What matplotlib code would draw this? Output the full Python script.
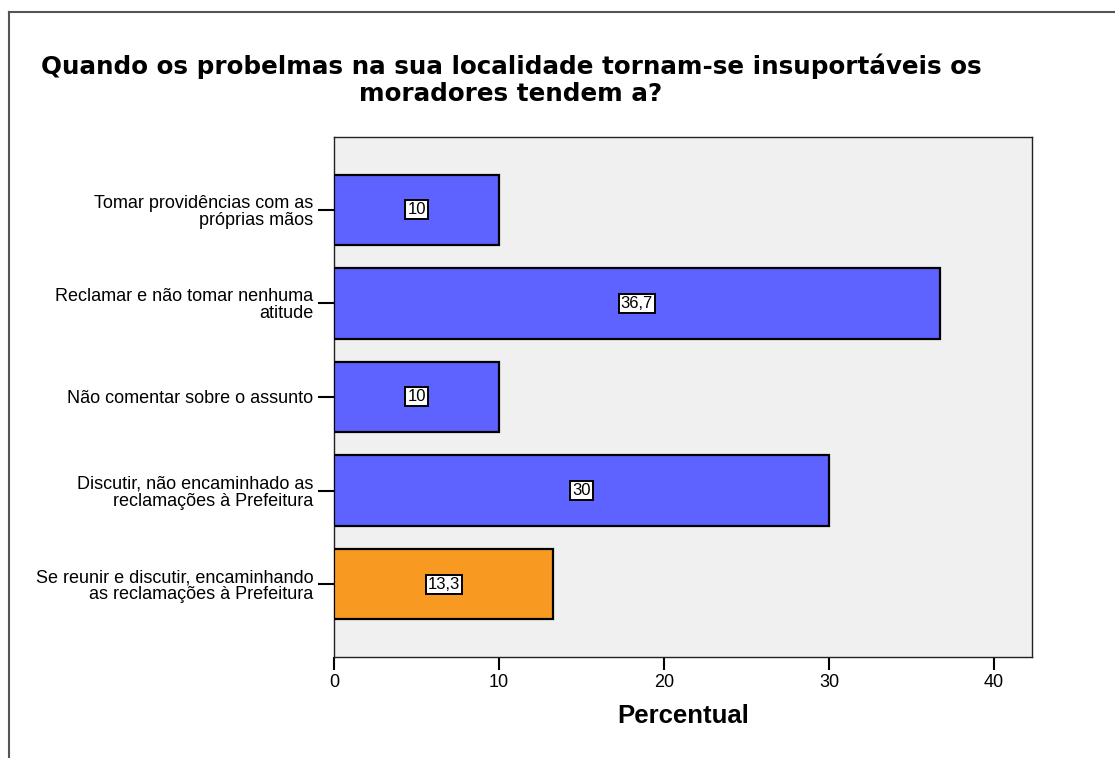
import matplotlib
matplotlib.use("Agg")
import matplotlib.pyplot as plt

categories = [
    "Tomar providências com as\npróprias mãos",
    "Reclamar e não tomar nenhuma\natitude",
    "Não comentar sobre o assunto",
    "Discutir, não encaminhado as\nreclamações à Prefeitura",
    "Se reunir e discutir, encaminhando\nas reclamações à Prefeitura",
]
values = [10, 36.7, 10, 30, 13.3]
value_labels = ["10", "36,7", "10", "30", "13,3"]
bar_colors = ["#5E62FF", "#5E62FF", "#5E62FF", "#5E62FF", "#F89A22"]
xticks = [0, 10, 20, 30, 40]

plt.rcParams['font.family'] = ['Liberation Sans', 'DejaVu Sans']

fig = plt.figure(figsize=(11.15, 7.58), dpi=100)
ax = fig.add_axes([334/1115, 1-657/758, (1032-334)/1115, (657-137)/758])
ax.set_facecolor("#F0F0F0")

ypos = list(range(len(categories)))
ax.barh(ypos, values, height=0.75, color=bar_colors, edgecolor="black", linewidth=1.6, zorder=3)
for y, v, lab in zip(ypos, values, value_labels):
    ax.text(v/2, y, lab, ha="center", va="center", fontsize=12, zorder=4,
            bbox=dict(boxstyle="square,pad=0.12", facecolor="white", edgecolor="black", linewidth=1.4))

ax.set_ylim(4.78, -0.78)
ax.set_xlim(0, 42.3)
ax.set_yticks(ypos)
ax.set_yticklabels(categories, fontsize=13, ha="right", linespacing=1.0)
ax.set_xticks(xticks)
ax.set_xticklabels([str(t) for t in xticks], fontsize=13)
ax.tick_params(axis="y", length=11.5, width=1.5, pad=3.5)
ax.tick_params(axis="x", length=9.5, width=1.5, pad=3, direction="out")
for s in ["left", "bottom", "top", "right"]:
    ax.spines[s].set_linewidth(1.0)
    ax.spines[s].set_color("#222222")
ax.set_xlabel("Percentual", fontsize=18.5, fontweight="bold", labelpad=9)

fig.text(511/1115, 1-101/758, "Quando os probelmas na sua localidade tornam-se insuportáveis os\nmoradores tendem a?",
         ha="center", va="baseline", multialignment="center", fontsize=17.7, fontweight="bold",
         family=["DejaVu Sans"], linespacing=1.17)

# outer frame
fig.add_artist(plt.Line2D([9/1115, 9/1115], [0, 1-12/758], color="#555555", linewidth=1.5, transform=fig.transFigure))
fig.add_artist(plt.Line2D([9/1115, 1], [1-12/758, 1-12/758], color="#555555", linewidth=1.5, transform=fig.transFigure))

fig.savefig("out.png", dpi=100)
